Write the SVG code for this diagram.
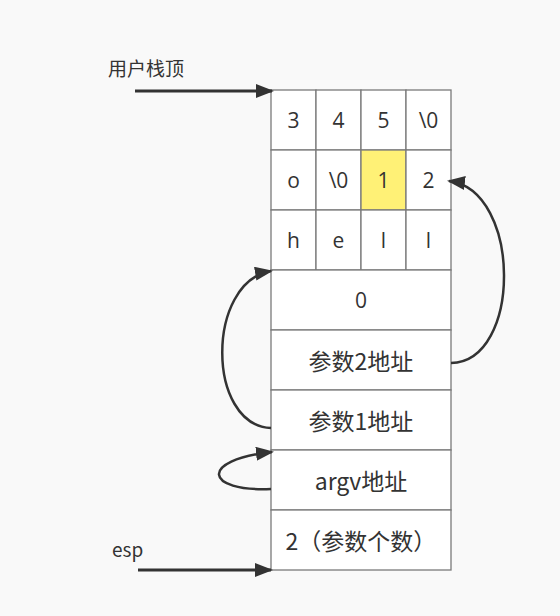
<svg xmlns="http://www.w3.org/2000/svg" width="560" height="616" viewBox="0 0 560 616">
<defs>
<marker id="ah" markerWidth="18" markerHeight="14" refX="16" refY="7" orient="auto" markerUnits="userSpaceOnUse">
<path d="M0,0 L18,7 L0,14 Z" fill="#333"/>
</marker>
<style>
.cell{fill:#fff;stroke:#7a7a7a;stroke-width:1.3}
.hl{fill:#fff176}
.t{font-family:"Open Sans","Noto Sans CJK SC","Liberation Sans",sans-serif;font-size:21px;fill:#333;text-anchor:middle;dominant-baseline:central}
.w{font-family:"Noto Sans CJK SC","Liberation Sans",sans-serif;font-size:23px}
.lbl{font-family:"Noto Sans CJK SC","Liberation Sans",sans-serif;font-size:19px;fill:#333}
.con{fill:none;stroke:#333;stroke-width:2.5}
.str{fill:none;stroke:#333;stroke-width:3}
</style>
</defs>
<rect width="560" height="616" fill="#f9f9f9"/>
<g id="row1">
<rect class="cell" x="271" y="90" width="45" height="60"/><text class="t" x="293.5" y="120">3</text>
<rect class="cell" x="316" y="90" width="45" height="60"/><text class="t" x="338.5" y="120">4</text>
<rect class="cell" x="361" y="90" width="45" height="60"/><text class="t" x="383.5" y="120">5</text>
<rect class="cell" x="406" y="90" width="45" height="60"/><text class="t" x="428.5" y="120">\0</text>
</g>
<g id="row2">
<rect class="cell" x="271" y="150" width="45" height="60"/><text class="t" x="293.5" y="180">o</text>
<rect class="cell" x="316" y="150" width="45" height="60"/><text class="t" x="338.5" y="180">\0</text>
<rect class="cell hl" x="361" y="150" width="45" height="60"/><text class="t" x="383.5" y="180">1</text>
<rect class="cell" x="406" y="150" width="45" height="60"/><text class="t" x="428.5" y="180">2</text>
</g>
<g id="row3">
<rect class="cell" x="271" y="210" width="45" height="60"/><text class="t" x="293.5" y="240">h</text>
<rect class="cell" x="316" y="210" width="45" height="60"/><text class="t" x="338.5" y="240">e</text>
<rect class="cell" x="361" y="210" width="45" height="60"/><text class="t" x="383.5" y="240">l</text>
<rect class="cell" x="406" y="210" width="45" height="60"/><text class="t" x="428.5" y="240">l</text>
</g>
<g id="zero"><rect class="cell" x="271" y="270" width="180" height="60"/><text class="t" x="361" y="300">0</text></g>
<g id="arg2"><rect class="cell" x="271" y="330" width="180" height="60"/><text class="t w" x="361" y="360">参数2地址</text></g>
<g id="arg1"><rect class="cell" x="271" y="390" width="180" height="60"/><text class="t w" x="361" y="420">参数1地址</text></g>
<g id="argv"><rect class="cell" x="271" y="450" width="180" height="60"/><text class="t w" x="361" y="480">argv地址</text></g>
<g id="argc"><rect class="cell" x="271" y="510" width="180" height="60"/><text class="t w" x="361" y="540">2（参数个数）</text></g>
<g id="labels">
<text class="lbl" x="108" y="76">用户栈顶</text>
<text class="lbl" x="112" y="557">esp</text>
</g>
<g id="connectors">
<path class="str" d="M135,91 L272,91" marker-end="url(#ah)"/>
<path class="str" d="M138,570 L271,570" marker-end="url(#ah)"/>
<path class="con" d="M451,363 C522,362 522,190 449,181" marker-end="url(#ah)"/>
<path class="con" d="M271,428 C206,425 206,282 271,271" marker-end="url(#ah)"/>
<path class="con" d="M271,489 C205,492 198,460 272,452" marker-end="url(#ah)"/>
</g>
</svg>
